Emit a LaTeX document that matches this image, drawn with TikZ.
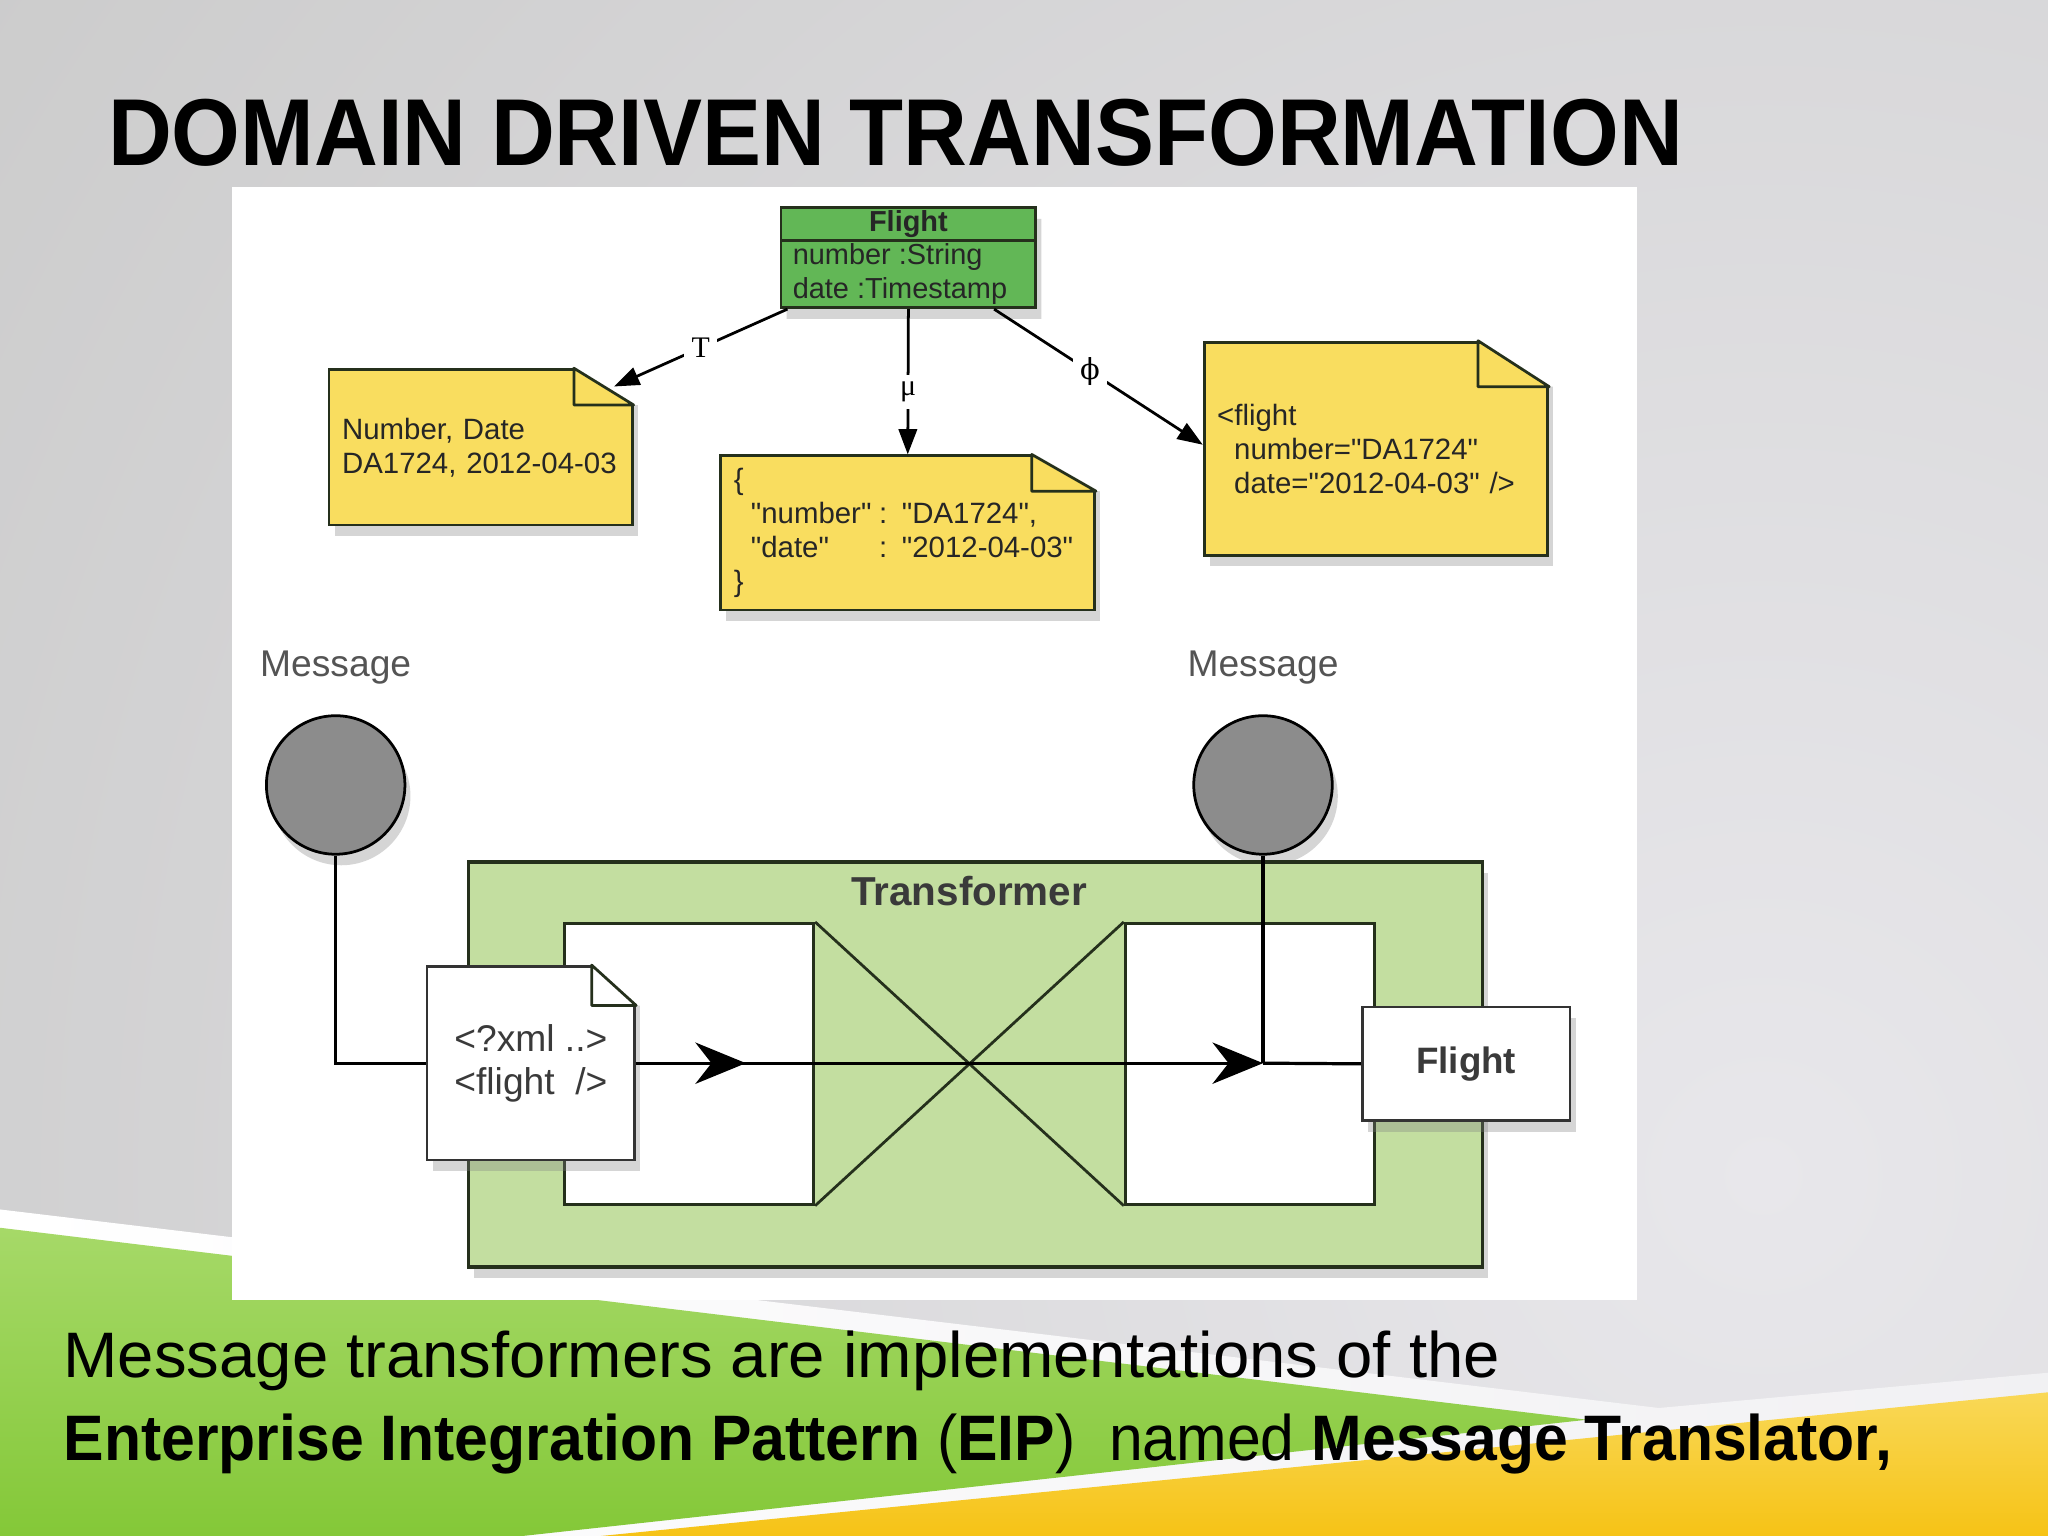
\documentclass[tikz,border=0pt]{standalone}
\usepackage{fontspec}
\setmainfont{Liberation Sans}
\newfontfamily\labelserif{Liberation Serif}
\newfontfamily\phiserif{DejaVu Serif}
\usepackage{graphicx}
\newcommand{\dquote}{\XeTeXglyph\XeTeXcharglyph"22\relax}
\definecolor{bggray}{HTML}{CBCBCB}
\definecolor{bglight}{HTML}{E8E7EB}
\definecolor{notefill}{HTML}{F9DD5F}
\definecolor{classfill}{HTML}{62B756}
\definecolor{trfill}{HTML}{C3DEA0}
\definecolor{edgedark}{HTML}{25301C}
\definecolor{ballgray}{HTML}{8C8C8C}
\definecolor{inktext}{HTML}{3A3A3A}
\definecolor{greentop}{HTML}{A6D968}
\definecolor{greenmid}{HTML}{CBEBA4}
\definecolor{greenbot}{HTML}{84C838}
\definecolor{yellowtop}{HTML}{F9D857}
\definecolor{yellowbot}{HTML}{F6C316}
\usetikzlibrary{arrows.meta, positioning, shapes.multipart, shadows, calc, decorations.markings}

\begin{document}
\begin{tikzpicture}[x=0.01cm, y=-0.01cm,
    softshadow/.style={drop shadow={shadow xshift=1.2pt, shadow yshift=-2.4pt, opacity=0.33}},
    note/.style={draw=edgedark, fill=notefill, line width=0.6pt, align=left,
                 inner xsep=0.1cm, inner ysep=0pt, text=black!85,
                 font=\fontsize{6.4}{7.4}\selectfont, softshadow},
    foldline/.style={draw=edgedark, line width=0.6pt, line join=round, line cap=round},
    classbox/.style={rectangle split, rectangle split parts=2, draw=edgedark, fill=classfill,
                     line width=0.6pt, minimum width=1.95cm, inner xsep=0.09cm, inner ysep=0.35pt,
                     align=left, rectangle split part align={center,left}, text=black!85,
                     font=\fontsize{6.3}{7.4}\selectfont, softshadow},
    maparrow/.style={-{Triangle[length=5.5pt, width=4pt]}, line width=0.6pt},
    maplabel/.style={fill=white, inner sep=1.6pt, font=\labelserif\fontsize{6.5}{7}\selectfont},
    msgball/.style={circle, draw=black, fill=ballgray, line width=0.6pt, minimum size=1.06cm, softshadow},
    caption/.style={font=\fontsize{8.1}{9}\selectfont, text=black!67},
    trbox/.style={draw=edgedark, fill=trfill, line width=0.7pt, minimum width=7.76cm,
                  minimum height=3.10cm, softshadow},
    innerbox/.style={draw=edgedark, fill=white, line width=0.6pt, minimum width=1.91cm, minimum height=2.15cm},
    xline/.style={draw=edgedark, line width=0.6pt},
    xmlsheet/.style={draw=black!80, fill=white, line width=0.6pt, align=left, text=inktext,
                     font=\fontsize{8.1}{9.4}\selectfont, minimum width=1.59cm, minimum height=1.48cm, softshadow},
    objbox/.style={draw=black!80, fill=white, line width=0.6pt, text=inktext,
                   font=\fontsize{8}{9}\selectfont\bfseries, minimum width=1.59cm, minimum height=0.87cm, softshadow},
    wire/.style={line width=0.7pt},
    bigtip/.tip={Stealth[length=11pt, width=9pt, inset=3.5pt]}
  ]
  \useasboundingbox (0,0) rectangle (1568,1176);

  % slide background
  \fill[bggray] (0,0) rectangle (1568,1176);
  \begin{scope}
    \clip (0,0) rectangle (1568,1176);
    \shade[inner color=bglight, outer color=bggray] (1350,900) circle (1700);
  \end{scope}
  \shade[left color=white, right color=bglight!60!white]
    (0,926) -- (1270,1078) -- (1568,1051) -- (1568,1176) -- (0,1176) -- cycle;
  \shade[top color=greentop, middle color=greenmid, bottom color=greenbot]
    (0,940) -- (1215,1087) -- (400,1176) -- (0,1176) -- cycle;
  \shade[top color=yellowtop, bottom color=yellowbot]
    (460,1176) -- (1568,1066) -- (1568,1176) -- cycle;

  % diagram panel
  \fill[white] (178,143) rectangle (1253,995);

  % domain model and its three mappings
  \node[classbox, anchor=north] (flight) at (695.5,158)
    {\textbf{Flight}\nodepart{two}number :String\\date :Timestamp};
  \node[note, minimum width=2.32cm, minimum height=1.19cm, text width=2.12cm]
    (csv) at (368,342.5) {Number, Date\\DA1724, 2012-04-03};
  \node[note, minimum width=2.86cm, minimum height=1.18cm, text width=2.66cm]
    (json) at (695,408)
    {\{\\\hspace*{3.7pt}\makebox[27.9pt][l]{\dquote number\dquote}: \dquote DA1724\dquote,\\
     \hspace*{3.7pt}\makebox[27.9pt][l]{\dquote date\dquote}: \dquote 2012-04-03\dquote\\\}};
  \node[note, minimum width=2.63cm, minimum height=1.63cm, text width=2.43cm]
    (xmlnote) at (1053.5,343.5)
    {<flight\\\hspace*{3.7pt}number=\dquote DA1724\dquote\\\hspace*{3.7pt}date=\dquote 2012-04-03\dquote{} />};

  % messages and transformer
  \node[msgball] (msgin) at (257,601) {};
  \node[caption, above=0.11cm of msgin] (inlabel) {Message};
  \node[msgball] (msgout) at (967,601) {};
  \node[caption, above=0.11cm of msgout] (outlabel) {Message};

  \node[trbox] (trans) at (747,815) {};
  \node[font=\fontsize{8.8}{10}\selectfont\bfseries, text=inktext] (translabel) at (742,682) {Transformer};
  \node[innerbox] (inl) at (527.5,814.5) {};
  \node[innerbox] (inr) at (957,814.5) {};
  \draw[xline] (inl.north east) -- (inr.south west) (inl.south east) -- (inr.north west);

  \node[xmlsheet] (xmldoc) at (406.5,814) {<?xml ..>\\<flight\ \ />};
  \node[objbox] (fltbox) at (1122.5,814.5) {Flight};
  \coordinate (junc) at (msgout |- xmldoc);

  % folded corners
  \foreach \n/\fx/\fy in {csv/13pt/8pt, json/14pt/8pt, xmlnote/15.5pt/10pt, xmldoc/9.7pt/8.8pt}{
    \fill[white] ([shift={(-\fx,1pt)}]\n.north east) -- ([shift={(2.6pt,1pt)}]\n.north east)
      -- ([shift={(2.6pt,-\fy)}]\n.north east) -- ([yshift=-\fy]\n.north east)
      -- ([xshift=-\fx]\n.north east) -- cycle;
    \draw[foldline] ([xshift=-\fx]\n.north east) -- ([yshift=-\fy]\n.north east)
      ([xshift=-\fx]\n.north east) -- ([shift={(-\fx,-\fy)}]\n.north east) -- ([yshift=-\fy]\n.north east);
  }

  \draw[maparrow] ($(flight.south west)+(6,0)$) -- node[maplabel] {T} ($(csv.north east)+(-15,14)$);
  \draw[maparrow] (flight.south) -- node[maplabel, pos=0.57] {μ} (json.north);
  \draw[maparrow] ($(flight.south east)+(-33,0)$) -- node[maplabel, pos=0.46, font=\phiserif\fontsize{6.3}{7}\selectfont] {ϕ}
    ($(xmlnote.west)+(0,-3)$);

  \draw[wire] (msgin.south) |- (xmldoc.west);
  \draw[wire, -bigtip, decoration={markings, mark=at position 0.175 with {\arrow{bigtip}}},
        postaction={decorate}] (xmldoc.east) -- (junc);
  \draw[wire] (msgout.south) -- (junc);
  \draw[wire] (junc) -- (fltbox.west);

  % slide texts
  \node[anchor=base west, inner sep=0pt, font=\fontsize{20.7}{24}\selectfont\bfseries] (title) at (82,127)
    {\scalebox{0.93}[1]{DOMAIN DRIVEN TRANSFORMATION}};
  \node[anchor=base west, inner sep=0pt, font=\fontsize{14}{17}\selectfont] (line1) at (48,1055)
    {\scalebox{1.015}[1]{Message transformers are implementations of the}};
  \node[anchor=base west, inner sep=0pt, font=\fontsize{14}{17}\selectfont] (line2) at (48,1118)
    {\scalebox{0.944}[1]{\textbf{Enterprise Integration Pattern} (\textbf{EIP})\ \ named \textbf{Message Translator,}}};
\end{tikzpicture}
\end{document}
